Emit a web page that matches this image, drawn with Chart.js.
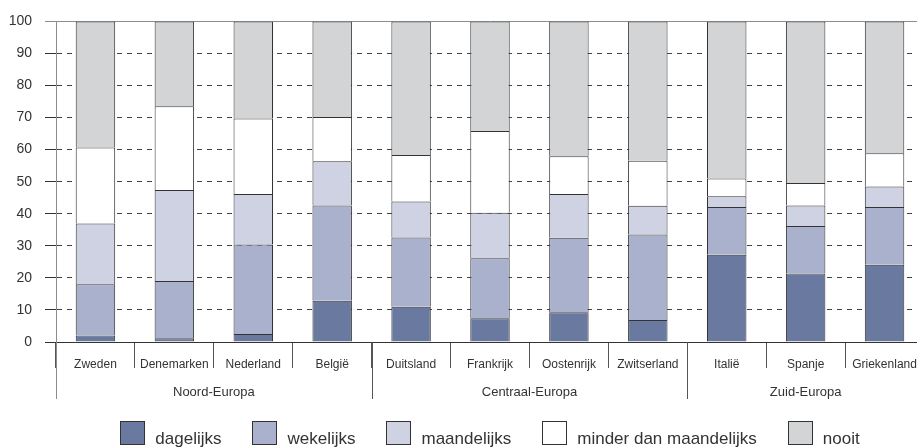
<!DOCTYPE html>
<html>
<head>
<meta charset="utf-8">
<script src="https://cdn.jsdelivr.net/npm/chart.js@4.4.1/dist/chart.umd.min.js"></script>
<style>
  html, body { margin: 0; padding: 0; background: #fff; overflow: hidden; }
  #wrap { width: 924px; height: 447px; }
</style>
</head>
<body>
<div id="wrap"><canvas id="chart" width="924" height="447"></canvas></div>
<script>
// Internetgebruik per land, in procenten
const countries = ['Zweden', 'Denemarken', 'Nederland', 'België', 'Duitsland', 'Frankrijk',
  'Oostenrijk', 'Zwitserland', 'Italië', 'Spanje', 'Griekenland'];
const regions = ['Noord-Europa', 'Centraal-Europa', 'Zuid-Europa'];
const regionSizes = [4, 4, 3];
const yTicks = [0, 10, 20, 30, 40, 50, 60, 70, 80, 90, 100];

const seriesNames = ['dagelijks', 'wekelijks', 'maandelijks', 'minder dan maandelijks', 'nooit'];
const dagelijks   = [2.0, 1.2, 2.5, 12.9, 11.0, 7.4, 9.3, 6.9, 27.2, 21.4, 24.1];
const wekelijks   = [16.0, 17.8, 27.9, 29.7, 21.6, 18.7, 23.2, 26.6, 14.9, 14.8, 18.0];
const maandelijks = [19.0, 28.4, 15.8, 13.8, 11.2, 14.2, 13.7, 9.0, 3.4, 6.4, 6.4];
const minder      = [23.7, 26.1, 23.5, 13.8, 14.5, 25.5, 11.7, 14.0, 5.5, 7.0, 10.4];
const nooit       = [39.3, 26.5, 30.3, 29.8, 41.7, 34.2, 42.1, 43.5, 49.0, 50.4, 41.1];

const colors = ['#6a79a0', '#a9b1cc', '#cfd2e3', '#ffffff', '#d3d4d6'];
const FONT = "'Liberation Sans', Arial, sans-serif";

Chart.defaults.font.family = FONT;
Chart.defaults.color = '#333';

const series = [dagelijks, wekelijks, maandelijks, minder, nooit];

// group labels and dividers under the country names
const groupPlugin = {
  id: 'groups',
  afterDraw(chart) {
    const x = chart.scales.x;
    const ctx = chart.ctx;
    const half = (x.getPixelForValue(1) - x.getPixelForValue(0)) / 2;
    let start = 0;
    ctx.save();
    ctx.font = '13px ' + FONT;
    ctx.textAlign = 'center';
    ctx.textBaseline = 'middle';
    ctx.fillStyle = '#333';
    regions.forEach((name, i) => {
      const end = start + regionSizes[i] - 1;
      const left = x.getPixelForValue(start) - half;
      const right = x.getPixelForValue(end) + half;
      const lx = Math.round(left) + 0.5;
      ctx.strokeStyle = i === 0 ? '#8c8c8c' : '#555';
      ctx.lineWidth = 1;
      ctx.beginPath();
      ctx.moveTo(lx, x.top);
      ctx.lineTo(lx, x.top + 57);
      ctx.stroke();
      ctx.fillText(name, (left + right) / 2, x.top + 50);
      start = end + 1;
    });
    ctx.restore();
  }
};

// legend with the text sitting low next to the boxes
const legendPlugin = {
  id: 'lowLegend',
  afterDraw(chart) {
    const ctx = chart.ctx;
    const area = chart.chartArea;
    const boxW = 24, boxH = 23, gap = 11, itemGap = 31;
    ctx.save();
    ctx.font = '17px ' + FONT;
    const widths = chart.data.datasets.map(d => ctx.measureText(d.label).width);
    const total = widths.reduce((s, w) => s + boxW + gap + w, 0) + itemGap * (widths.length - 1);
    let px = (area.left + area.right) / 2 - total / 2;
    const boxTop = chart.height - 26;
    chart.data.datasets.forEach((d, i) => {
      const bx = Math.round(px);
      ctx.fillStyle = d.backgroundColor;
      ctx.fillRect(bx, boxTop, boxW, boxH);
      ctx.strokeStyle = '#333';
      ctx.lineWidth = 1;
      ctx.strokeRect(bx + 0.5, boxTop + 0.5, boxW, boxH);
      ctx.fillStyle = '#333';
      ctx.textBaseline = 'alphabetic';
      ctx.fillText(d.label, px + boxW + gap, chart.height - 3);
      px += boxW + gap + widths[i] + itemGap;
    });
    ctx.restore();
  }
};

new Chart(document.getElementById('chart'), {
  type: 'bar',
  data: {
    labels: countries,
    datasets: series.map((vals, i) => ({
      label: seriesNames[i],
      data: vals,
      backgroundColor: colors[i],
      borderColor: '#333',
      borderWidth: 1,
      categoryPercentage: 1,
      barPercentage: 0.5,
    }))
  },
  options: {
    responsive: false,
    animation: false,
    layout: { padding: { top: 21, left: 0, right: 0, bottom: 0 } },
    plugins: {
      legend: { display: false },
      tooltip: { enabled: false },
    },
    scales: {
      x: {
        stacked: true,
        ticks: { padding: -11, color: '#333', font: { size: 12 }, maxRotation: 0, autoSkip: false },
        grid: { offset: true, drawOnChartArea: false, drawTicks: true, tickLength: 26, tickColor: '#555' },
        border: { display: true, color: '#333' },
        afterFit(s) { s.height = 105; },
      },
      y: {
        stacked: true,
        min: 0,
        max: 100,
        afterBuildTicks(s) { s.ticks = yTicks.map(v => ({ value: v })); },
        ticks: { padding: 13, color: '#333', font: { size: 14 } },
        grid: {
          color: c => (c.tick && c.tick.value === 100) ? '#8c8c8c' : '#444',
          tickColor: c => (c.tick && c.tick.value === 100) ? '#8c8c8c' : '#333',
          tickLength: 11,
          tickBorderDash: [],
        },
        border: {
          display: true,
          color: '#8c8c8c',
          dash: c => (c.tick && (c.tick.value === 0 || c.tick.value === 100)) ? [] : [5, 5],
        },
        afterFit(s) { s.width = 56; },
      }
    }
  },
  plugins: [groupPlugin, legendPlugin]
});
</script>
</body>
</html>
